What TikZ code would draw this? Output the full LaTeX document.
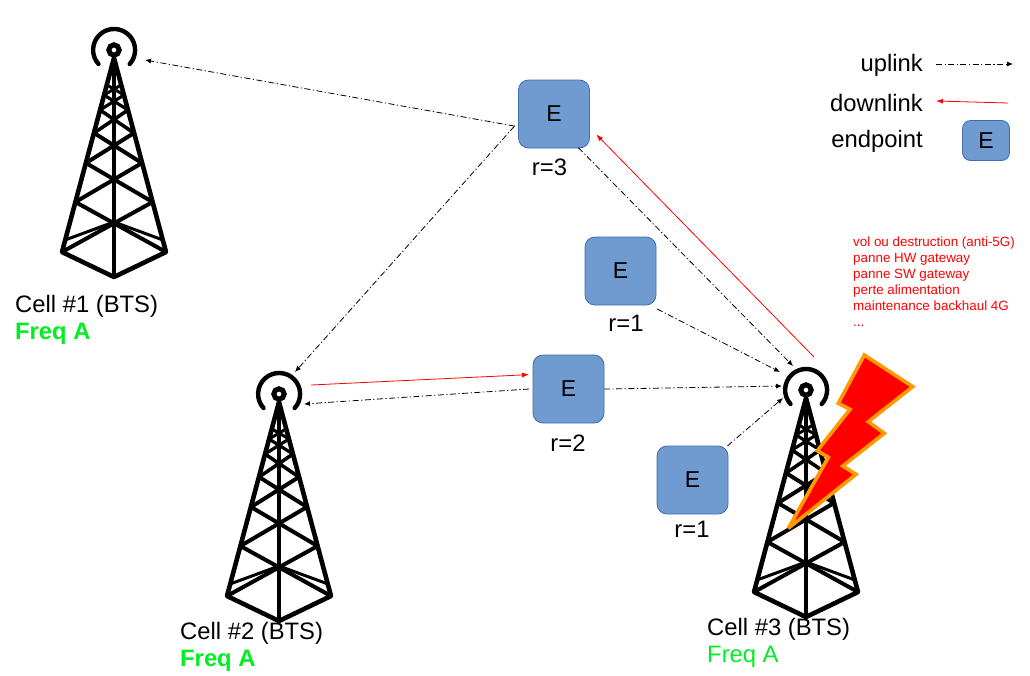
\documentclass[tikz,border=0pt]{standalone}
\usepackage{fontspec}
\setmainfont{Liberation Sans}
\usetikzlibrary{positioning,arrows.meta,calc}
\definecolor{epfill}{HTML}{6F9BD1}
\definecolor{epline}{HTML}{3F6DB0}
\definecolor{boltline}{HTML}{FF9900}
\definecolor{freqgreen}{HTML}{00EE22}
\tikzset{
  tower/.pic={
    \draw[line width=4.6pt, line join=round] (-52,202) -- (0,8) -- (52,202) -- (0,227) -- cycle;
    \draw[line width=4pt] (0,8) -- (0,227);
    \draw[line width=4pt, line cap=round] (-38.6,152) -- (52,202) (38.6,152) -- (-52,202);
    \draw[line width=3pt] (-49,190) -- (0,172) -- (49,190);
    \draw[line width=4pt] (-38.6,152) -- (28,113) (38.6,152) -- (-28,113);
    \draw[line width=4pt] (-28,113) -- (20,83) (28,113) -- (-20,83);
    \draw[line width=3.6pt] (-20,83) -- (14,60) (20,83) -- (-14,60);
    \draw[line width=3.2pt] (-14,60) -- (10,45) (14,60) -- (-10,45);
    \draw[line width=3pt] (-10,45) -- (7,35) (10,45) -- (-7,35);
    \draw[line width=5pt] (0,0) circle (5.2);
    \draw[line width=4.4pt, line cap=round] (-15.5,14) arc (138:402:21);
  },
  antenna/.style={circle, minimum size=2pt, inner sep=0pt, outer sep=0pt},
  endpoint/.style={draw=epline, fill=epfill, rounded corners=10pt, line width=0.8pt,
    minimum width=71pt, minimum height=68pt, inner sep=0pt, outer sep=4pt, font=\fontsize{23}{26}\selectfont},
  label/.style={font=\fontsize{23.8}{27}\selectfont, inner sep=0pt},
  uplink/.style={-{Latex[length=6pt,width=5pt]}, black, line width=0.8pt, dash pattern=on 6pt off 2.5pt on 1.2pt off 2.5pt},
  downlink/.style={-{Latex[length=7pt,width=5pt]}, red, line width=0.8pt},
}
\begin{document}
\begin{tikzpicture}[x=1pt,y=-1pt]
    \useasboundingbox (0,0) rectangle (1030,675);
    % towers
    \pic at (114,50) {tower};
    \pic at (279,394) {tower};
    \pic at (806,390) {tower};
    \node[antenna] (cellA) at (114,50) {};
    \node[antenna] (cellB) at (279,394) {};
    \node[antenna] (cellC) at (806,390) {};
    \node[label, right] (nameA) at (15,306) {Cell \#1 (BTS)};
    \node[label, right, freqgreen] (freqA) at (15,334) {\textbf{Freq A}};
    \node[label, right] (nameB) at (180,633) {Cell \#2 (BTS)};
    \node[label, right, freqgreen] (freqB) at (180,661) {\textbf{Freq A}};
    \node[label, right] (nameC) at (707,629) {Cell \#3 (BTS)};
    \node[label, right, freqgreen] (freqC) at (707,657) {Freq A};
    % lightning
    \draw[fill=red, draw=boltline, line width=3.6pt, line join=miter, miter limit=4]
      (864.3,355) -- (912.7,386.7) -- (868.3,421.7) -- (884.3,433.3) -- (842.7,466) -- (856,474.3)
      -- (788.3,528.3) -- (828.3,457.3) -- (817.3,450.7) -- (850,409.3) -- (838.3,403.3) -- cycle;
    % endpoints
    \node[endpoint] (epTop) at (554,114) {E};
    \node[endpoint] (epMid) at (620.5,271) {E};
    \node[endpoint] (epLeft) at (568.5,389) {E};
    \node[endpoint] (epLow) at (692.5,480) {E};
    \node[label] (rTop) at (549.5,167.5) {r=3};
    \node[label] (rMid) at (626,323.5) {r=1};
    \node[label] (rLeft) at (568,443.5) {r=2};
    \node[label] (rLow) at (692,529.5) {r=1};
    % uplinks and downlinks
    \path (cellA) ++(31,10) coordinate (inA);
    \path (cellB) ++(16,-22) coordinate (inBa);
    \path (cellB) ++(25,10) coordinate (inBb);
    \path (cellB) ++(32,-9) coordinate (outB);
    \path (cellC) ++(-13,-24) coordinate (inCa);
    \path (cellC) ++(-26,-18) coordinate (inCb);
    \path (cellC) ++(-24,-4) coordinate (inCc);
    \path (cellC) ++(-23,8) coordinate (inCd);
    \path (cellC) ++(8,-33) coordinate (outC);
    \draw[uplink] (epTop.197) -- (inA);
    \draw[uplink] (epTop.197) -- (inBa);
    \draw[uplink, shorten <=-6pt] (epTop.-53) -- (inCa);
    \draw[uplink] (epMid.-46) -- (inCb);
    \draw[uplink, shorten <=-4pt] (epLeft.east) -- (inCc);
    \draw[uplink] (epLeft.west) -- (inBb);
    \draw[uplink, shorten <=-6pt] (epLow.north east) -- (inCd);
    \draw[downlink, shorten >=4pt] (outC) -- (epTop.-24);
    \draw[downlink] (outB) -- (epLeft.160);
    % legend
    \node[label, left] (keyUp) at (923,65) {uplink};
    \node[label, left] (keyDown) at (923,103) {downlink};
    \node[label, left] (keyEnd) at (923,141) {endpoint};
    \coordinate (upFrom) at (936,64);
    \coordinate (upTo) at (1013,64);
    \coordinate (downFrom) at (1008,103);
    \coordinate (downTo) at (936,101);
    \draw[uplink] (upFrom) -- (upTo);
    \draw[downlink] (downFrom) -- (downTo);
    \node[endpoint, minimum width=47pt, minimum height=40pt, rounded corners=8pt, outer sep=0pt] (keyBox) at (986,140.5) {E};
    % failure causes
    \node[right, red, inner sep=0pt, align=left, font=\fontsize{13.4}{16}\selectfont] (causes) at (853,281.5)
      {vol ou destruction (anti-5G)\\panne HW gateway\\panne SW gateway\\perte alimentation\\maintenance backhaul 4G\\...};
\end{tikzpicture}
\end{document}
